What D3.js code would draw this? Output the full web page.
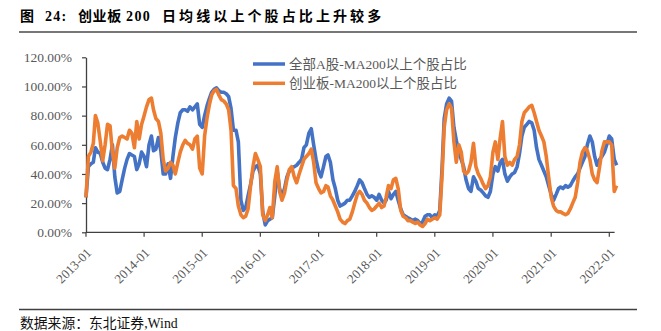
<!DOCTYPE html>
<html>
<head>
<meta charset="utf-8">
<script src="https://cdn.jsdelivr.net/npm/d3@7"></script>
<style>
  body { margin: 0; background: #fff; }
  svg text { font-family: "Liberation Serif", "Noto Sans CJK SC", serif; }
</style>
</head>
<body>
<div id="chart"></div>
<script>
// half-month observations (1st and 16th of each month), 2013-01 .. 2022-02
var firstMonth = "2013-01",
    lastMonth = "2022-02";

// 全部A股: share of stocks above MA200 (%)
var allA = [
  24, 45, 47, 48, 58, 55, 54, 48, 44, 43, 50, 60, 38, 27, 28, 36, 44, 50, 54, 53, 52, 43, 47, 55,
  52, 45, 60, 66, 56, 57, 65, 56, 40, 40, 47, 37, 52, 65, 75, 82, 84, 84, 83, 86, 84, 86, 88, 74,
  72, 80, 87, 92, 96, 98, 99, 97, 96, 96, 95, 93, 85, 70, 70, 62, 22, 15, 17, 25, 33, 42, 45, 46,
  40, 14, 5, 8, 9, 10, 25, 42, 30, 24, 30, 38, 42, 44, 45, 46, 48, 50, 58, 60, 68, 71, 60, 50,
  42, 38, 45, 52, 53, 48, 36, 30, 22, 18, 19, 20, 22, 22, 25, 28, 32, 36, 34, 30, 26, 24, 25, 24,
  22, 26, 22, 20, 22, 28, 23, 26, 28, 22, 16, 12, 11, 10, 9, 8, 9, 8, 6, 7, 11, 12, 12, 10,
  12, 11, 15, 45, 78, 88, 92, 90, 72, 63, 55, 50, 45, 36, 30, 28, 38, 35, 30, 29, 27, 25, 24, 28,
  40, 45, 42, 48, 50, 40, 35, 38, 40, 41, 45, 54, 66, 72, 74, 76, 75, 70, 58, 50, 46, 42, 38, 32,
  26, 22, 26, 30, 31, 30, 32, 31, 32, 35, 38, 40, 44, 48, 52, 60, 66, 62, 52, 46, 50, 52, 55, 60,
  66, 64, 50, 46
];

// 创业板: share of stocks above MA200 (%)
var gem = [
  24, 52, 55, 61, 80, 75, 62, 49, 60, 74, 73, 55, 44, 58, 65, 66, 65, 64, 70, 68, 58, 76, 64, 74,
  80, 86, 91, 92, 84, 78, 76, 68, 50, 42, 44, 48, 46, 40, 48, 55, 60, 63, 61, 60, 57, 64, 66, 44,
  40, 66, 79, 88, 94, 97, 98, 94, 91, 90, 88, 84, 70, 32, 30, 18, 12, 10, 11, 16, 32, 45, 54, 50,
  45, 12, 8, 12, 17, 10, 35, 45, 28, 22, 27, 36, 43, 45, 38, 34, 40, 45, 50, 52, 54, 57, 48, 34,
  30, 27, 28, 32, 31, 25, 22, 18, 14, 9, 7, 6, 8, 9, 14, 20, 26, 28, 26, 22, 20, 17, 15, 16,
  18, 20, 17, 18, 24, 32, 30, 36, 37, 30, 15, 11, 10, 8, 8, 7, 6, 7, 5, 4, 6, 9, 8, 9,
  10, 9, 12, 40, 72, 84, 88, 85, 62, 48, 60, 55, 42, 40, 42, 48, 61, 45, 40, 37, 33, 30, 32, 38,
  55, 62, 50, 65, 76, 52, 46, 48, 46, 50, 52, 60, 76, 82, 84, 86, 87, 82, 76, 70, 66, 62, 52, 38,
  24, 18, 15, 14, 14, 13, 12, 13, 16, 20, 24, 34, 48, 55, 58, 56, 50, 40, 36, 34, 45, 56, 62, 62,
  62, 60, 28, 32
];

var yTicks = [0, 20, 40, 60, 80, 100, 120],
    xTickYears = [2013, 2014, 2015, 2016, 2017, 2018, 2019, 2020, 2021, 2022],
    seriesNames = ["全部A股-MA200以上个股占比", "创业板-MA200以上个股占比"],
    seriesColors = ["#4472C4", "#ED7D31"];

// heading pieces and their left edges
var titleParts = [
    { text: "图", x: 20, ls: 1 },
    { text: "24:", x: 45, ls: 1.2 },
    { text: "创业板", x: 78, ls: 0.6 },
    { text: "200", x: 126, ls: 1.4 },
    { text: "日均线以上个股占比上升较多", x: 162, ls: 3.1 }
];

var W = 661, H = 331;

var monthParse = d3.timeParse("%Y-%m");
var dates = [];
d3.timeMonth.range(monthParse(firstMonth), d3.timeMonth.offset(monthParse(lastMonth), 1)).forEach(function (m) {
    dates.push(m);
    dates.push(d3.timeDay.offset(m, 15));
});
dates = dates.slice(0, allA.length);

var svg = d3.select("#chart").append("svg")
    .attr("width", W)
    .attr("height", H);

// heading and rules
svg.append("g").selectAll("text")
    .data(titleParts)
    .enter().append("text")
    .attr("x", function (d) { return d.x; })
    .attr("y", 20.5)
    .attr("font-size", 14)
    .attr("font-weight", "bold")
    .attr("letter-spacing", function (d) { return d.ls; })
    .attr("fill", "#000")
    .text(function (d) { return d.text; });

svg.append("line")
    .attr("x1", 19).attr("x2", 637)
    .attr("y1", 32).attr("y2", 32)
    .attr("stroke", "#777")
    .attr("stroke-width", 1.8);

svg.append("line")
    .attr("x1", 19).attr("x2", 637)
    .attr("y1", 309.5).attr("y2", 309.5)
    .attr("stroke", "#404040")
    .attr("stroke-width", 1.3);

svg.append("text")
    .attr("x", 20)
    .attr("y", 328)
    .attr("font-size", 13.8)
    .attr("fill", "#111")
    .text("数据来源：东北证券,Wind");

var xScale = d3.scaleTime()
    .domain([new Date(2013, 0, 1), new Date(2022, 0, 1)])
    .range([86, 609.3]);

var yScale = d3.scaleLinear()
    .domain([0, 120])
    .range([232.3, 57.3]);

var axisColor = "#404040";

// y axis
var yAxis = svg.append("g")
    .attr("class", "y-axis axis")
    .attr("transform", "translate(86,0)")
    .call(d3.axisLeft(yScale)
        .tickValues(yTicks)
        .tickSize(4)
        .tickSizeOuter(0)
        .tickFormat(function (d) { return d3.format(".2f")(d) + "%"; }));

yAxis.select(".domain").attr("stroke", axisColor).attr("stroke-width", 1.3);
yAxis.selectAll(".tick line").attr("stroke", axisColor).attr("stroke-width", 1.2);
yAxis.selectAll(".tick text")
    .attr("x", -14)
    .attr("font-size", 13.5)
    .attr("fill", "#595959");

// x axis
var lastDate = dates[dates.length - 1];
var xAxis = svg.append("g")
    .attr("class", "x-axis axis")
    .attr("transform", "translate(0,232.3)");

xAxis.append("line")
    .attr("x1", 86).attr("x2", xScale(lastDate) - 2)
    .attr("stroke", axisColor)
    .attr("stroke-width", 1.3);

var xTicks = xAxis.selectAll("g.tick")
    .data(xTickYears)
    .enter().append("g")
    .attr("class", "tick")
    .attr("transform", function (d) { return "translate(" + xScale(new Date(d, 0, 1)) + ",0)"; });

xTicks.append("line")
    .attr("y2", 4.5)
    .attr("stroke", axisColor)
    .attr("stroke-width", 1.2);

xTicks.append("text")
    .attr("transform", "translate(3,18) rotate(-45)")
    .attr("text-anchor", "end")
    .attr("dy", "0.35em")
    .attr("font-size", 13)
    .attr("fill", "#595959")
    .text(function (d) { return d + "-01"; });

// series
var line = d3.line()
    .x(function (d, i) { return xScale(dates[i]); })
    .y(function (d) { return yScale(d); });

[allA, gem].forEach(function (values, s) {
    svg.append("path")
        .datum(values)
        .attr("fill", "none")
        .attr("stroke", seriesColors[s])
        .attr("stroke-width", 3.6)
        .attr("stroke-linejoin", "round")
        .attr("d", line);
});

// legend
var legend = svg.selectAll("g.legend")
    .data(seriesNames)
    .enter().append("g")
    .attr("class", "legend")
    .attr("transform", function (d, i) { return "translate(253," + (64 + i * 19.3) + ")"; });

legend.append("line")
    .attr("x1", 0).attr("x2", 32)
    .attr("stroke", function (d, i) { return seriesColors[i]; })
    .attr("stroke-width", 3.5);

legend.append("text")
    .attr("x", 36)
    .attr("dy", "0.35em")
    .attr("font-size", 13.5)
    .attr("fill", "#595959")
    .text(function (d) { return d; });
</script>
</body>
</html>
